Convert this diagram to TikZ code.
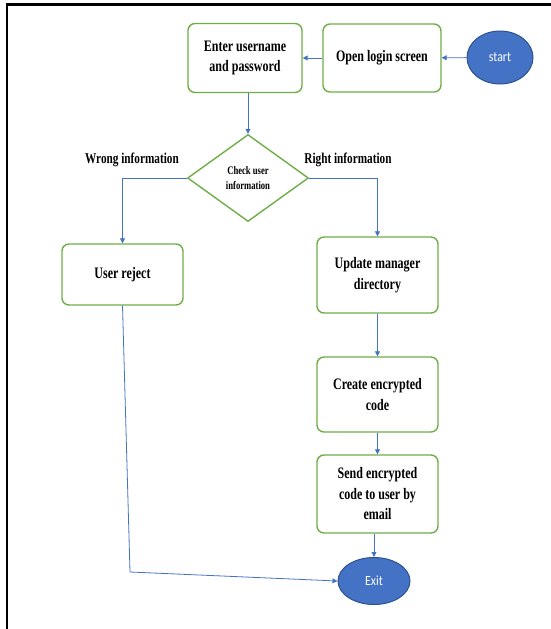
\documentclass[tikz,border=0pt]{standalone}
\usepackage{fontspec}
\newfontfamily\boxfont{Liberation Serif}[FakeStretch=0.75]
\newfontfamily\endfont{Carlito}[FakeStretch=0.85]
\usepackage{tikz}
\usetikzlibrary{shapes,arrows.meta}
\definecolor{boxgreen}{HTML}{70AD47}
\definecolor{flowblue}{HTML}{4472C4}
\definecolor{edgeblue}{HTML}{2F528F}
\tikzstyle{stepbox} = [draw=boxgreen, line width=1.4pt, rectangle, rounded corners=7pt, fill=white, align=center, inner sep=2pt, font=\boxfont\bfseries\fontsize{16}{20.5}\selectfont]
\tikzstyle{decision} = [draw=boxgreen, line width=1.4pt, diamond, fill=white, align=center, inner sep=0pt, minimum width=121pt, minimum height=87pt, font=\boxfont\bfseries\fontsize{11.5}{15}\selectfont]
\tikzstyle{terminal} = [draw=edgeblue, line width=1pt, ellipse, fill=flowblue, text=white, inner sep=0pt, font=\endfont\fontsize{14}{16}\selectfont]
\tikzstyle{branch} = [font=\boxfont\bfseries\fontsize{15}{17}\selectfont]
\tikzstyle{flowline} = [draw=flowblue, line width=0.8pt, -{Triangle[length=5pt,width=5pt]}]

\begin{document}
\begin{tikzpicture}[x=1pt, y=-1pt]
\useasboundingbox (0,0) rectangle (551,629);
% page frame
\draw[line width=2.4pt] (7,629) -- (7,4.5) -- (551,4.5);

% top row
\node [terminal, minimum width=66pt, minimum height=53pt] (start) at (500,57.5) {start};
\node [stepbox, minimum width=118pt, minimum height=68pt] (login) at (382,58) {Open login screen};
\node [stepbox, minimum width=114pt, minimum height=69pt] (enter) at (245,58) {Enter username\\and password};

% decision
\node [decision] (check) at (248,178) {Check user\\information};
\node [branch] (wrong) at (132,160) {Wrong information};
\node [branch] (right) at (348,160) {Right information};

% left branch
\node [stepbox, minimum width=121pt, minimum height=61pt] (reject) at (122.5,274.5) {User reject};

% right branch
\node [stepbox, minimum width=121pt, minimum height=76pt] (update) at (377.5,275) {Update manager\\directory};
\node [stepbox, minimum width=121pt, minimum height=75pt] (create) at (377.5,394.5) {Create encrypted\\code};
\node [stepbox, minimum width=121pt, minimum height=78pt] (send) at (377.5,494) {Send encrypted\\code to user by\\email};
\node [terminal, minimum width=72pt, minimum height=47pt] (exit) at (374,581) {Exit};
\coordinate (bend) at (130,572);

% connectors
\draw [flowline] (start) -- (login);
\draw [flowline] (login) -- (enter);
\draw [flowline] (check.north |- enter.south) -- (check.north);
\draw [flowline] (check.west) -| (reject.north);
\draw [flowline] (check.east) -| (update.north);
\draw [flowline] (update) -- (create);
\draw [flowline] (create) -- (send);
\draw [flowline] (send.south -| exit.north) -- (exit.north);
\draw [flowline] (reject.south) -- (bend) -- (exit.west);
\end{tikzpicture}
\end{document}
